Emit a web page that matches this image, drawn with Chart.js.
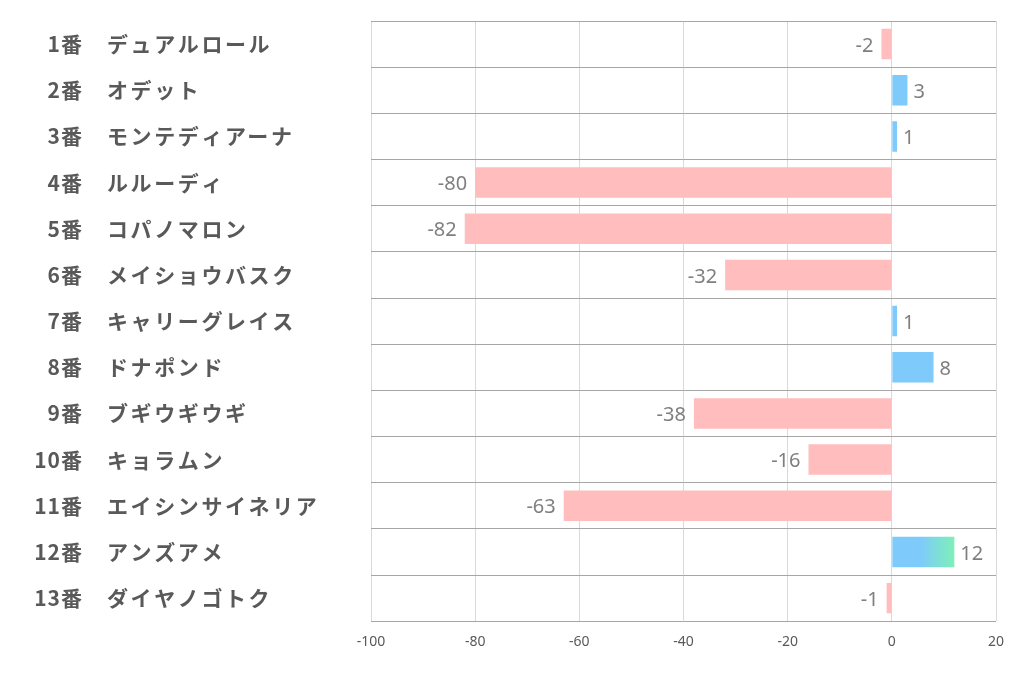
<!DOCTYPE html>
<html>
<head>
<meta charset="utf-8">
<script src="https://cdn.jsdelivr.net/npm/chart.js@4/dist/chart.umd.min.js"></script>
<style>
  html, body { margin: 0; padding: 0; background: #fff; }
  canvas { display: block; }
</style>
</head>
<body>
<canvas id="chart" width="1022" height="678"></canvas>
<script>
// horse numbers / names / values
const numbers = ['1番', '2番', '3番', '4番', '5番', '6番', '7番', '8番', '9番', '10番', '11番', '12番', '13番'];
const names = ['デュアルロール', 'オデット', 'モンテディアーナ', 'ルルーディ', 'コパノマロン', 'メイショウバスク',
  'キャリーグレイス', 'ドナポンド', 'ブギウギウギ', 'キョラムン', 'エイシンサイネリア', 'アンズアメ', 'ダイヤノゴトク'];
const values = [-2, 3, 1, -80, -82, -32, 1, 8, -38, -16, -63, 12, -1];
const xTicks = [-100, -80, -60, -40, -20, 0, 20];

const NEG = '#ffbdbe';
const POS = '#7ecafb';
const POS_END = '#7df0b8';
const maxVal = Math.max(...values);

// gradient for the top bar
function barColor(ctx) {
  const v = ctx.raw;
  if (v < 0) return NEG;
  if (v !== maxVal) return POS;
  const chart = ctx.chart;
  if (!chart.chartArea) return POS;
  const x0 = chart.scales.x.getPixelForValue(0);
  const x1 = chart.scales.x.getPixelForValue(v);
  const g = chart.ctx.createLinearGradient(x0, 0, x1, 0);
  g.addColorStop(0, POS);
  g.addColorStop(0.45, POS);
  g.addColorStop(1, POS_END);
  return g;
}

// left labels + value labels
const labelPlugin = {
  id: 'labels',
  afterDatasetsDraw(chart) {
    const { ctx, scales } = chart;
    ctx.save();
    ctx.textBaseline = 'middle';
    ctx.font = 'bold 21px "Noto Sans CJK JP"';
    ctx.fillStyle = '#595959';
    numbers.forEach((n, i) => {
      const y = scales.y.getPixelForValue(i);
      ctx.letterSpacing = '1px';
      ctx.textAlign = 'right';
      ctx.fillText(n, 83, y);
      ctx.letterSpacing = '2.6px';
      ctx.textAlign = 'left';
      ctx.fillText(names[i], 107, y);
    });
    ctx.letterSpacing = '0px';
    ctx.font = '20px "Noto Sans", sans-serif';
    ctx.fillStyle = '#7f7f7f';
    values.forEach((v, i) => {
      const y = scales.y.getPixelForValue(i) + 2;
      const x = scales.x.getPixelForValue(v);
      if (v < 0) {
        ctx.textAlign = 'right';
        ctx.fillText(String(v), x - 8, y);
      } else {
        ctx.textAlign = 'left';
        ctx.fillText(String(v), x + 6, y);
      }
    });
    ctx.restore();
  }
};

new Chart(document.getElementById('chart'), {
  type: 'bar',
  data: {
    labels: numbers,
    datasets: [{
      data: values,
      backgroundColor: barColor,
      borderWidth: 0,
      barPercentage: 0.66,
      categoryPercentage: 1,
    }]
  },
  options: {
    indexAxis: 'y',
    responsive: false,
    animation: false,
    devicePixelRatio: 1,
    layout: { padding: { left: 371, right: 26, top: 21, bottom: 16 } },
    plugins: {
      legend: { display: false },
      tooltip: { enabled: false },
    },
    scales: {
      x: {
        min: -100,
        max: 20,
        afterBuildTicks(axis) { axis.ticks = xTicks.map(v => ({ value: v })); },
        grid: { color: '#d9d9d9', lineWidth: 1, drawTicks: false },
        border: { display: false },
        ticks: {
          color: '#595959',
          padding: 12,
          maxRotation: 0,
          font: { size: 14, family: '"Noto Sans", sans-serif' },
        }
      },
      y: {
        offset: true,
        grid: { offset: true, color: '#a6a6a6', lineWidth: 1, drawTicks: false },
        border: { display: false },
        ticks: { display: false },
      }
    }
  },
  plugins: [labelPlugin]
});
</script>
</body>
</html>
